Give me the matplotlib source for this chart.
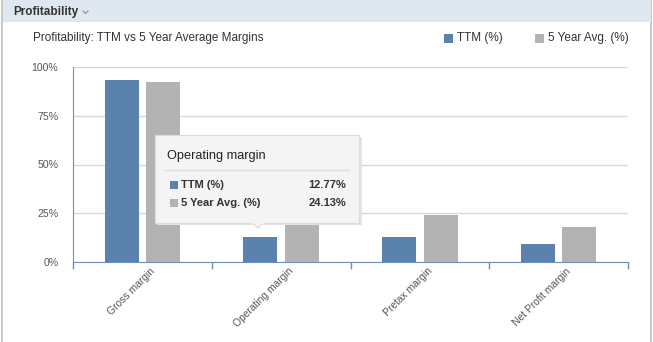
import matplotlib
matplotlib.use("Agg")
from matplotlib import pyplot as plt
from matplotlib.patches import Rectangle, Polygon
import matplotlib.transforms as mtransforms
import numpy as np

categories = ["Gross margin", "Operating margin", "Pretax margin", "Net Profit margin"]
ttm = [93.3, 12.77, 12.8, 9.2]
avg5 = [92.3, 24.13, 24.1, 17.9]
yticks = [0, 25, 50, 75, 100]

BLUE = "#5b82ad"
GRAY = "#b3b3b3"
AXIS = "#6f90bd"
TXT = "#555555"

plt.rcParams["font.family"] = ["Liberation Sans", "DejaVu Sans"]

W, H = 653, 342
fig = plt.figure(figsize=(W / 100, H / 100), dpi=100)


def fx(px):
    return px / W


def fy(py):
    return 1 - py / H


# panel frame and header
fig.patches.append(Rectangle((fx(2), -0.01), fx(649), 1.01, transform=fig.transFigure,
                             facecolor="white", edgecolor="#c0c0c0", lw=1.2, zorder=-10))
fig.patches.append(Rectangle((fx(2.5), fy(22)), fx(648), fy(0) - fy(22), transform=fig.transFigure,
                             facecolor="#dfe8f0", edgecolor="none", zorder=-9))
fig.text(fx(13), fy(12), "Profitability", fontsize=8.5, fontweight="bold", color="#333333", va="center")
fig.lines.append(plt.Line2D([fx(83), fx(85.5), fx(88)], [fy(11), fy(13.5), fy(11)],
                            transform=fig.transFigure, color="#999999", lw=0.9))

fig.text(fx(33), fy(38), "Profitability: TTM vs 5 Year Average Margins", fontsize=8.5,
         color="#333333", va="center")

# legend
fig.patches.append(Rectangle((fx(444), fy(43)), fx(9), fy(34) - fy(43), transform=fig.transFigure,
                             facecolor=BLUE, edgecolor="none"))
fig.text(fx(457), fy(38), "TTM (%)", fontsize=8.5, color="#333333", va="center")
fig.patches.append(Rectangle((fx(535), fy(43)), fx(9), fy(34) - fy(43), transform=fig.transFigure,
                             facecolor=GRAY, edgecolor="none"))
fig.text(fx(548), fy(38), "5 Year Avg. (%)", fontsize=8.5, color="#333333", va="center")

# plot area
ax = fig.add_axes([fx(73), fy(262), fx(628) - fx(73), fy(67) - fy(262)], zorder=1)
x = np.arange(len(categories))
w = 0.245
ax.bar(x - 0.15, ttm, w, color=BLUE, zorder=3)
ax.bar(x + 0.15, avg5, w, color=GRAY, zorder=3)

ax.set_xlim(-0.5, len(categories) - 0.5)
ax.set_ylim(0, 100)
ax.set_yticks(yticks)
ax.set_yticklabels([f"{t}%" for t in yticks], fontsize=7.6, color=TXT)
ax.tick_params(axis="y", length=0, pad=10.5)
ax.yaxis.grid(True, color="#d9d9d9", lw=1, zorder=0)

ax.set_xticks(np.arange(len(categories) + 1) - 0.5)
ax.set_xticklabels([])
ax.tick_params(axis="x", length=5, color=AXIS, width=1, direction="out")
ax.set_xticks(x, minor=True)
ax.set_xticklabels(categories, minor=True, rotation=45, ha="right", rotation_mode="anchor",
                   fontsize=7.4, color=TXT)
ax.tick_params(axis="x", which="minor", length=0, pad=3)
shift = mtransforms.ScaledTranslation(7 / 100, 0, fig.dpi_scale_trans)
for lab in ax.get_xticklabels(minor=True):
    lab.set_transform(lab.get_transform() + shift)

for s in ["top", "right"]:
    ax.spines[s].set_visible(False)
ax.spines["left"].set_color(AXIS)
ax.spines["bottom"].set_color(AXIS)
ax.set_facecolor("none")

# tooltip
TZ = 20
fig.patches.append(Rectangle((fx(157), fy(225)), fx(205), fy(137) - fy(225), transform=fig.transFigure,
                             facecolor="#e4e4e4", edgecolor="none", zorder=TZ))
fig.patches.append(Rectangle((fx(155), fy(223)), fx(204), fy(135) - fy(223), transform=fig.transFigure,
                             facecolor="#f4f4f4", edgecolor="#dcdcdc", lw=0.8, zorder=TZ + 1))
fig.patches.append(Polygon([(fx(252), fy(222.6)), (fx(264), fy(222.6)), (fx(258), fy(228))],
                           closed=True, transform=fig.transFigure, facecolor="#f4f4f4",
                           edgecolor="#dcdcdc", lw=0.8, zorder=TZ + 1))
fig.lines.append(plt.Line2D([fx(252.7), fx(263.3)], [fy(222.6), fy(222.6)],
                            transform=fig.transFigure, color="#f4f4f4", lw=1.5, zorder=TZ + 2))
fig.text(fx(167), fy(156), "Operating margin", fontsize=9.2, color="#222222", va="center", zorder=TZ + 3)
fig.lines.append(plt.Line2D([fx(165), fx(349)], [fy(170), fy(170)], transform=fig.transFigure,
                            color="#dddddd", lw=1, zorder=TZ + 3))
fig.patches.append(Rectangle((fx(170), fy(189)), fx(8), fy(181) - fy(189), transform=fig.transFigure,
                             facecolor=BLUE, edgecolor="none", zorder=TZ + 3))
fig.text(fx(181), fy(185), "TTM (%)", fontsize=8, fontweight="bold", color="#333333", va="center", zorder=TZ + 3)
fig.text(fx(346), fy(185), f"{ttm[1]:.2f}%", fontsize=8, fontweight="bold", color="#333333",
         va="center", ha="right", zorder=TZ + 3)
fig.patches.append(Rectangle((fx(170), fy(207)), fx(8), fy(199) - fy(207), transform=fig.transFigure,
                             facecolor=GRAY, edgecolor="none", zorder=TZ + 3))
fig.text(fx(181), fy(203), "5 Year Avg. (%)", fontsize=8, fontweight="bold", color="#333333", va="center", zorder=TZ + 3)
fig.text(fx(346), fy(203), f"{avg5[1]:.2f}%", fontsize=8, fontweight="bold", color="#333333",
         va="center", ha="right", zorder=TZ + 3)

fig.savefig("out.png", dpi=100)
